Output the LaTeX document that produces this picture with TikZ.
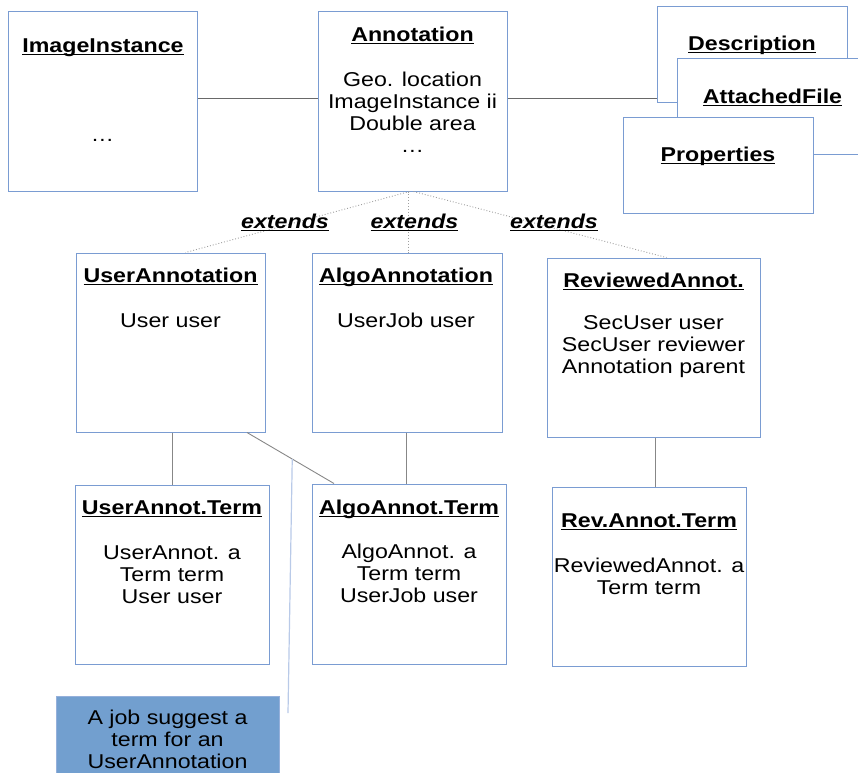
\documentclass[tikz,border=0pt]{standalone}
\usepackage{fontspec}
\setmainfont{Liberation Sans}[FakeStretch=1.16]
\usetikzlibrary{calc}
\definecolor{boxblue}{RGB}{122,156,210}
\definecolor{notefill}{RGB}{114,159,207}
\definecolor{notewire}{RGB}{185,202,232}
\definecolor{wire}{RGB}{105,105,105}
\newsavebox\ulbox
\newcommand{\ultitle}[1]{\sbox\ulbox{#1}\rlap{\rule[-3pt]{\wd\ulbox}{1.4pt}}\usebox\ulbox}
\tikzset{
  box/.style={draw=boxblue, line width=1pt, fill=white, inner sep=0pt},
  notebox/.style={draw=boxblue!80, line width=1pt, fill=notefill, inner sep=0pt},
  ttl/.style={font=\fontsize{20}{22}\selectfont\bfseries, inner sep=0pt, anchor=base},
  body/.style={font=\fontsize{20}{22}\selectfont, align=center, inner sep=0pt},
  extlbl/.style={font=\fontsize{20}{22}\selectfont\bfseries\itshape, inner sep=0pt, anchor=base},
  conn/.style={draw=wire, line width=0.9pt},
  ext/.style={draw=gray!75, dotted, line width=0.9pt},
}
\begin{document}
\begin{tikzpicture}[x=1pt, y=-1pt]
\useasboundingbox (0,0) rectangle (858,772);
\clip (0,0) rectangle (858,772);

% top row
\node[box, minimum width=189pt, minimum height=180pt] (ii) at (102.5,101) {};
\node[ttl] (iiT) at (103,52) {\ultitle{ImageInstance}};
\node[body, anchor=base] (iiB) at (102.5,141) {…};

\node[box, minimum width=189pt, minimum height=180pt] (ann) at (412.5,101) {};
\node[ttl] (annT) at (412.5,41) {\ultitle{Annotation}};
\node[body] (annB) at (412.5,112.3) {Geo. location\\ImageInstance ii\\Double area\\…};

\draw[conn] ([yshift=3pt]ii.east) -- ([yshift=3pt]ann.west);
\draw[conn] ([yshift=3pt]ann.east) -- ([yshift=3pt]ann.east -| 657,0);

\node[box, minimum width=190pt, minimum height=96pt] (desc) at (752.5,54) {};
\node[ttl] (descT) at (752,50) {\ultitle{Description}};
\node[box, minimum width=193pt, minimum height=96pt] (att) at (773.5,106) {};
\node[ttl] (attT) at (772.5,103) {\ultitle{AttachedFile}};
\node[box, minimum width=190pt, minimum height=96pt] (prop) at (718,165) {};
\node[ttl] (propT) at (718,161) {\ultitle{Properties}};

% middle row
\node[box, minimum width=189pt, minimum height=179pt] (ua) at (170.5,342.5) {};
\node[ttl] (uaT) at (170.5,282) {\ultitle{UserAnnotation}};
\node[body, anchor=base] (uaB) at (170.5,327) {User user};

\node[box, minimum width=190pt, minimum height=179pt] (aa) at (407,342.5) {};
\node[ttl] (aaT) at (406,282) {\ultitle{AlgoAnnotation}};
\node[body, anchor=base] (aaB) at (406,327) {UserJob user};

\node[box, minimum width=213pt, minimum height=179pt] (ra) at (653.5,347.5) {};
\node[ttl] (raT) at (653.5,287) {\ultitle{ReviewedAnnot.}};
\node[body] (raB) at (653.5,346.5) {SecUser user\\SecUser reviewer\\Annotation parent};

% inheritance
\draw[ext] ([xshift=-3pt]ann.south) -- ([xshift=15pt]ua.north);
\draw[ext] ([xshift=-4pt]ann.south) -- ([xshift=-4pt]ann.south |- aa.north);
\draw[ext] ([xshift=1pt]ann.south) -- ([xshift=13pt]ra.north);
\node[extlbl] (e1) at (285,228) {\ultitle{extends}};
\node[extlbl] (e2) at (414.5,228) {\ultitle{extends}};
\node[extlbl] (e3) at (554,228) {\ultitle{extends}};

% bottom row
\node[box, minimum width=194pt, minimum height=179pt] (uat) at (172,574.5) {};
\node[ttl] (uatT) at (172,514) {\ultitle{UserAnnot.Term}};
\node[body] (uatB) at (172,574.5) {UserAnnot. a\\Term term\\User user};

\node[box, minimum width=194pt, minimum height=180pt] (aat) at (409,574) {};
\node[ttl] (aatT) at (409,514) {\ultitle{AlgoAnnot.Term}};
\node[body] (aatB) at (409,573.5) {AlgoAnnot. a\\Term term\\UserJob user};

\node[box, minimum width=194pt, minimum height=179pt] (rat) at (649,576.5) {};
\node[ttl] (ratT) at (649,527) {\ultitle{Rev.Annot.Term}};
\node[body] (ratB) at (649,576) {ReviewedAnnot. a\\Term term};

\draw[conn, draw=wire!80] (uat.north |- ua.south) -- (uat.north);
\draw[conn, draw=wire!80] ([xshift=-1pt]aa.south) -- ([xshift=-1pt]aa.south |- aat.north);
\draw[conn, draw=wire!80] ([xshift=1.5pt]ra.south) -- ([xshift=1.5pt]ra.south |- rat.north);
\draw[conn, draw=wire!80] ([xshift=76.5pt]ua.south) -- coordinate[pos=0.52] (jn) ([xshift=-75pt]aat.north);

% note
\node[notebox, minimum width=223pt, minimum height=96pt] (note) at (167.5,744) {};
\node[body] (noteB) at (167.5,739) {A job suggest a\\term for an\\UserAnnotation};
\coordinate (noteEnd) at (288,713);
\draw[draw=notewire, line width=1.2pt] (noteEnd) -- (jn);
\end{tikzpicture}
\end{document}
